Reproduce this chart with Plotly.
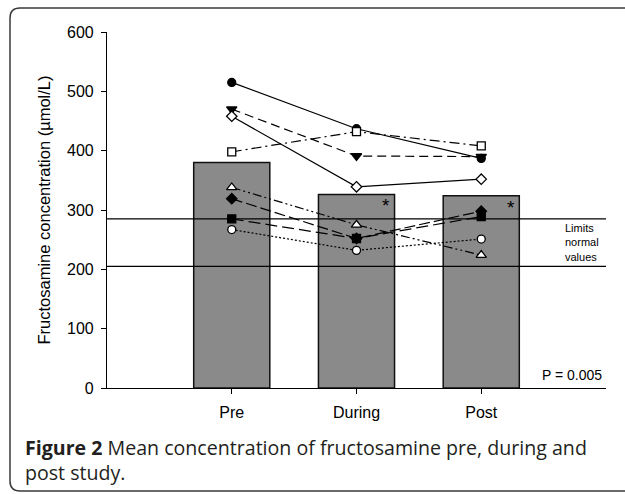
import plotly.graph_objects as go

# ---- data ----
phases = ["Pre", "During", "Post"]
mean_values = [380, 326, 324]
normal_low = 205
normal_high = 285

s_circle_filled = [515, 437, 387]
s_tri_down_filled = [470, 391, 390]
s_diamond_open = [458, 339, 352]
s_square_open = [398, 432, 408]
s_tri_up_open = [338, 275, 224]
s_diamond_filled = [319, 252, 298]
s_square_filled = [285, 252, 289]
s_circle_open = [267, 232, 251]

y_ticks = [0, 100, 200, 300, 400, 500, 600]

# ---- layout geometry (pixels) ----
W, H = 625, 494
L, R, T, B = 107, 19, 32, 106
PW, PH = W - L - R, H - T - B

def px(x):
    return (x - L) / PW

def py(y):
    return (H - B - y) / PH

xpos = list(range(len(phases)))
fig = go.Figure()

fig.add_trace(go.Bar(
    x=xpos, y=mean_values, width=0.61,
    marker=dict(color="#8a8a8a", line=dict(color="#111", width=1.5)),
    showlegend=False, hoverinfo="skip"))

series = [
    (s_circle_filled, "circle", "black", "solid"),
    (s_tri_down_filled, "triangle-down", "black", "9px,5px"),
    (s_diamond_open, "diamond", "white", "solid"),
    (s_square_open, "square", "white", "10px,4px,2px,4px"),
    (s_tri_up_open, "triangle-up", "white", "9px,3px,2px,3px,2px,3px"),
    (s_diamond_filled, "diamond", "black", "11px,4px"),
    (s_square_filled, "square", "black", "12px,5px"),
    (s_circle_open, "circle", "white", "2px,2px"),
]
for vals, sym, fill, dash in series:
    size = 8
    if sym.startswith("triangle"):
        size = 9
    fig.add_trace(go.Scatter(
        x=xpos, y=vals, mode="lines+markers",
        line=dict(color="black", width=1.2, dash=dash),
        marker=dict(symbol=sym, size=size, color=fill,
                    line=dict(color="black", width=1.3)),
        showlegend=False))

shapes = []
for v in (normal_low, normal_high):
    shapes.append(dict(type="line", xref="paper", yref="y", x0=0, x1=1,
                       y0=v, y1=v, line=dict(color="black", width=1.2),
                       layer="above"))

# outer rounded frame
r = 10
xl, yt, yb, xr = 10, 8, 491, 650
path = (f"M {px(xr)} {py(yt)} L {px(xl + r)} {py(yt)} "
        f"Q {px(xl)} {py(yt)} {px(xl)} {py(yt + r)} "
        f"L {px(xl)} {py(yb - r)} "
        f"Q {px(xl)} {py(yb)} {px(xl + r)} {py(yb)} L {px(xr)} {py(yb)}")
shapes.append(dict(type="path", xref="paper", yref="paper", path=path,
                   line=dict(color="#3a3a3a", width=1.5)))

annotations = [
    dict(x=1 + 0.24, y=mean_values[1] + 2, xref="x", yref="y", text="*",
         showarrow=False, yanchor="top", font=dict(size=19, color="black")),
    dict(x=2 + 0.24, y=mean_values[2] + 2, xref="x", yref="y", text="*",
         showarrow=False, yanchor="top", font=dict(size=19, color="black")),
    dict(x=px(563), y=(normal_low + normal_high) / 2, xref="paper", yref="y",
         text="Limits<br>normal<br>values", showarrow=False, xanchor="left",
         align="left", font=dict(size=11, color="black")),
    dict(x=px(604), y=py(375), xref="paper", yref="paper", text="P = 0.005",
         showarrow=False, xanchor="right", yanchor="middle",
         font=dict(size=14, color="black")),
    dict(x=px(23), y=py(432), xref="paper", yref="paper",
         text="<b>Figure 2</b> Mean concentration of fructosamine pre, during and<br>post study.",
         showarrow=False, xanchor="left", yanchor="top", align="left",
         font=dict(family="Open Sans", size=19.6, color="#231f20")),
]

fig.update_layout(
    width=W, height=H,
    margin=dict(l=L, r=R, t=T, b=B, autoexpand=False),
    paper_bgcolor="white", plot_bgcolor="white",
    font=dict(family="Liberation Sans", color="black"),
    shapes=shapes, annotations=annotations,
    showlegend=False,
    xaxis=dict(range=[-1, 3], tickvals=xpos, ticktext=phases,
               showline=True, linecolor="black", linewidth=1.2,
               ticks="outside", ticklen=5, tickcolor="black",
               showgrid=False, zeroline=False, automargin=False,
               ticklabelstandoff=5,
               tickfont=dict(size=16)),
    yaxis=dict(range=[0, 600], tickvals=y_ticks,
               showline=True, linecolor="black", linewidth=1.2,
               ticks="outside", ticklen=5, tickcolor="black",
               showgrid=False, zeroline=False, automargin=False,
               ticklabelstandoff=4,
               tickfont=dict(size=16),
               title=dict(text="Fructosamine concentration (µmol/L)",
                          font=dict(size=16.5), standoff=12)),
)

fig.write_html("out.html", config={"displayModeBar": False},
               post_script="document.body.style.margin='0';document.body.style.padding='0';")
